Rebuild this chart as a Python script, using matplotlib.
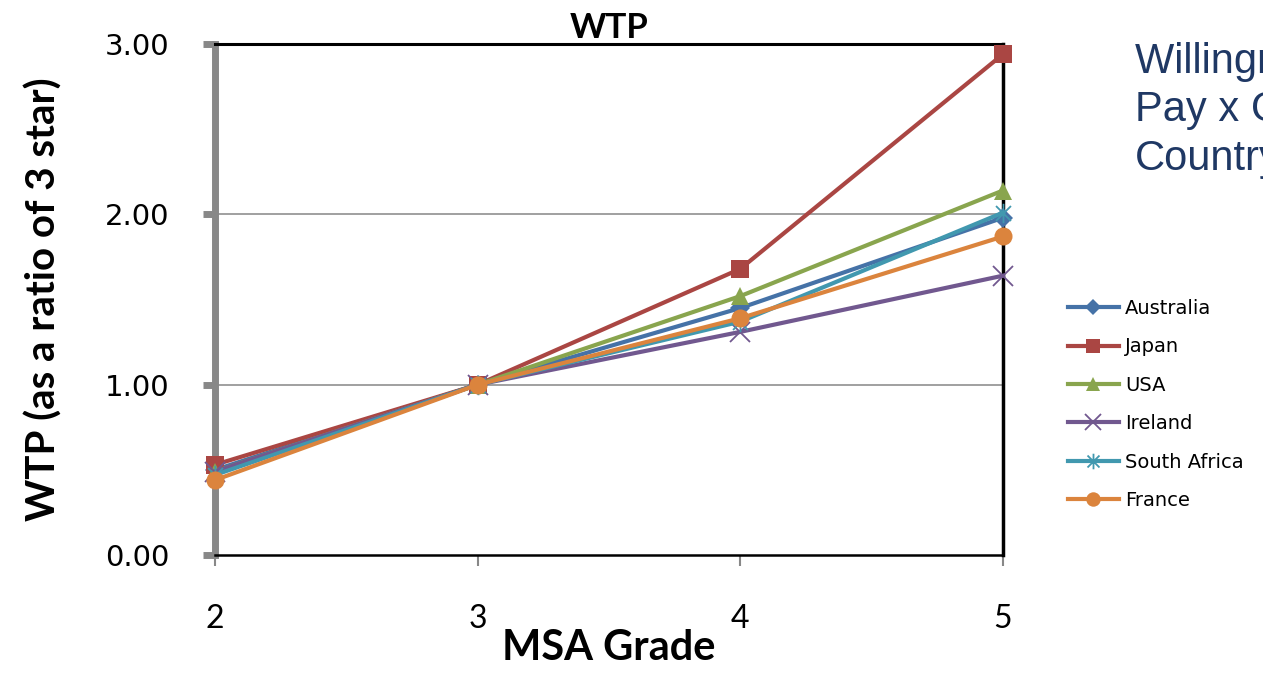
import matplotlib.pyplot as plt
from matplotlib.path import Path

# MSA grade vs willingness to pay, ratio of 3 star
grades = [2, 3, 4, 5]
countries = ['Australia', 'Japan', 'USA', 'Ireland', 'South Africa', 'France']
australia = [0.50, 1.00, 1.45, 1.98]
japan = [0.53, 1.00, 1.68, 2.94]
usa = [0.49, 1.00, 1.52, 2.14]
ireland = [0.49, 1.00, 1.31, 1.64]
south_africa = [0.47, 1.00, 1.37, 2.01]
france = [0.44, 1.00, 1.39, 1.87]
y_ticks = [0.0, 1.0, 2.0, 3.0]

# excel style "star" marker: an x with a vertical bar through it
star = Path([(-1, -1), (1, 1), (-1, 1), (1, -1), (0, -1.3), (0, 1.3)],
            [Path.MOVETO, Path.LINETO, Path.MOVETO, Path.LINETO, Path.MOVETO, Path.LINETO])

series = [australia, japan, usa, ireland, south_africa, france]
colours = ['#4572A7', '#AA4643', '#89A54E', '#71588F', '#4198AF', '#DB843D']
markers = ['D', 's', '^', 'x', star, 'o']
sizes = [10, 13, 13, 14, 14, 13]

fig = plt.figure(figsize=(12.63, 6.73), dpi=100)
ax = fig.add_axes([0.1702, 0.1753, 0.6239, 0.7593])

ax.set_xlim(2, 5)
ax.set_ylim(0, 3)

# grid lines only at the middle values
for v in y_ticks[1:-1]:
    ax.axhline(v, color='#999999', linewidth=1.3, zorder=0)

for name, vals, c, m, s in zip(countries, series, colours, markers, sizes):
    if m == 'x' or m is star:
        ax.plot(grades, vals, color=c, linewidth=3, marker=m, markersize=s,
                markeredgewidth=1.3, label=name, clip_on=False, zorder=3)
    else:
        ax.plot(grades, vals, color=c, linewidth=3, marker=m, markersize=s,
                markeredgewidth=0, label=name, clip_on=False, zorder=3)

# spines like the excel chart
ax.spines['left'].set_color('#888888')
ax.spines['left'].set_linewidth(5)
ax.spines['bottom'].set_color('black')
ax.spines['bottom'].set_linewidth(1.8)
ax.spines['top'].set_linewidth(2.2)
ax.spines['right'].set_linewidth(2.5)

ax.set_yticks(y_ticks)
ax.set_yticklabels(['%.2f' % v for v in y_ticks], fontsize=21, family='DejaVu Sans')
ax.set_xticks(grades)
ax.set_xticklabels([str(g) for g in grades], fontsize=23, family='Lato')
ax.tick_params(axis='y', length=9, width=5, color='#888888', pad=24)
ax.tick_params(axis='x', length=8, width=1.5, color='#888888', pad=27)

ax.set_title('WTP', fontsize=25, fontweight='bold', family='Lato', pad=3)
ax.set_xlabel('MSA Grade', fontsize=30, fontweight='bold', family='Lato', labelpad=-3)
ax.set_ylabel('WTP (as a ratio of 3 star)', fontsize=29, fontweight='bold',
              family='Lato', labelpad=30)

leg = ax.legend(loc='center left', bbox_to_anchor=(1.0825, 0.2945), frameon=False,
                prop={'family': 'DejaVu Sans', 'size': 14}, handlelength=2.6,
                labelspacing=1.0, handletextpad=0.35, borderaxespad=0, borderpad=0,
                markerscale=0.8)

# side heading, cut by the right edge as in the slide
fig.text(1135 / 1263, 1 - 42 / 673, 'Willingness to\nPay x Grade x\nCountry',
         fontsize=30, color='#1F3864', family='Liberation Sans', va='top',
         ha='left', linespacing=1.27)

fig.savefig('out.png', dpi=100)
